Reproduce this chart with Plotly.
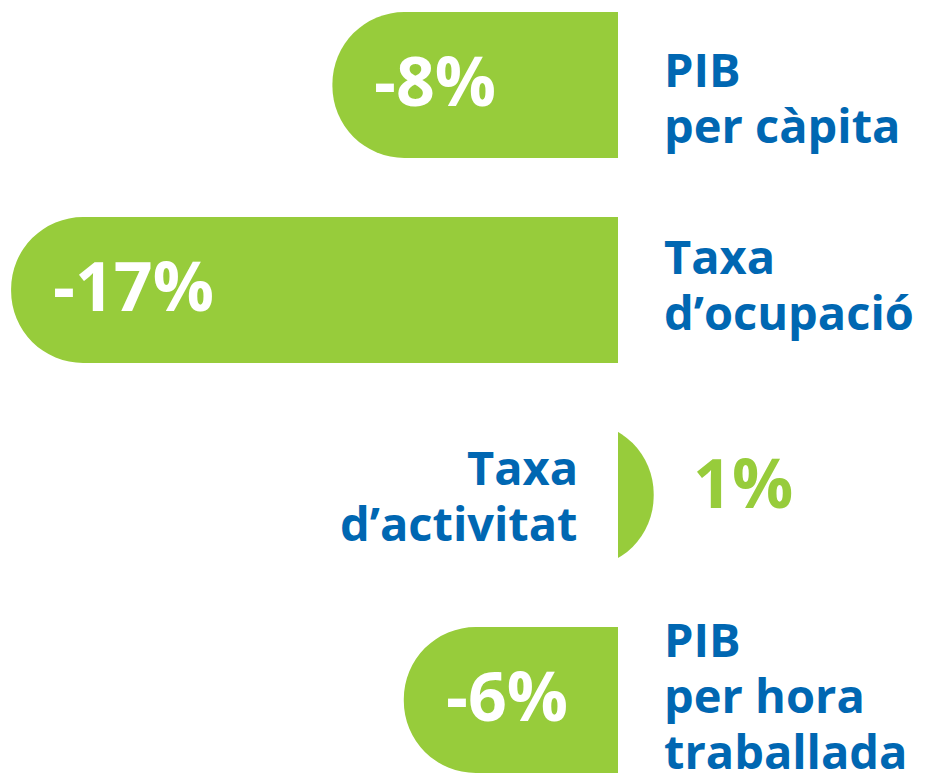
import plotly.graph_objects as go

categories = ["PIB per càpita", "Taxa d’ocupació", "Taxa d’activitat", "PIB per hora treballada"]
label_lines = [["PIB", "per càpita"], ["Taxa", "d’ocupació"], ["Taxa", "d’activitat"],
               ["PIB", "per hora", "traballada"]]
values = [-8, -17, 1, -6]
value_text = ["-8%", "-17%", "1%", "-6%"]

GREEN = "#97cc3b"
BLUE = "#0067b2"
FONT = "Open Sans"

# geometry (page has an 8px body margin, so the zero line sits at 610px inside the figure)
W, H = 926, 775
PX_PER_UNIT = 35.7
PX_PER_CAT = 205
ZERO_PX = 610
FIRST_PX = 77
BAR_W = 0.712
R = BAR_W / 2 * PX_PER_CAT / PX_PER_UNIT   # radius of rounded end, in x units
LINE_STEP = 56

neg_cats = [c for c, v in zip(categories, values) if v < 0]
neg_vals = [v for v in values if v < 0]
# positive bars: floating bar whose right end is a full semicircle, the part left of zero is masked
pos_cats = [c for c, v in zip(categories, values) if v > 0]
pos_base = [v - 2 * R for v in values if v > 0]
pos_len = [2 * R for v in values if v > 0]
mask_base = [v - 2 * R - 1 for v in values if v > 0]
mask_len = [2 * R + 1 - v for v in values if v > 0]

fig = go.Figure()
fig.add_trace(go.Bar(
    y=neg_cats, x=neg_vals, orientation="h", width=BAR_W,
    marker=dict(color=GREEN, cornerradius="50%", line=dict(width=0)),
    hoverinfo="skip",
))
fig.add_trace(go.Bar(
    y=pos_cats, x=pos_len, base=pos_base, orientation="h", width=BAR_W,
    marker=dict(color=GREEN, cornerradius="50%", line=dict(width=0)),
    hoverinfo="skip",
))
fig.add_trace(go.Bar(
    y=pos_cats, x=mask_len, base=mask_base, orientation="h", width=BAR_W + 0.04,
    marker=dict(color="white", line=dict(width=0)),
    hoverinfo="skip",
))

nudge = {0: -12, 1: 6, 3: 5}
annotations = []
for i, (cat, lines, val, txt) in enumerate(zip(categories, label_lines, values, value_text)):
    n = len(lines)
    if val < 0:
        annotations.append(dict(x=val, y=cat, text=txt, xanchor="left", xshift=40, yshift=6,
                                showarrow=False, font=dict(family=FONT, size=68, color="white", weight=700)))
        anchor, xs = "left", 44
    else:
        annotations.append(dict(x=val, y=cat, text=txt, xanchor="left", xshift=37, yshift=14,
                                showarrow=False, font=dict(family=FONT, size=68, color=GREEN, weight=700)))
        anchor, xs = "right", -38
    for j, line in enumerate(lines):
        annotations.append(dict(x=0, y=cat, text=line, xanchor=anchor, xshift=xs,
                                yshift=((n - 1) / 2 - j) * LINE_STEP + nudge.get(i, 0),
                                showarrow=False, font=dict(family=FONT, size=47, color=BLUE, weight=700)))

fig.update_layout(
    width=W, height=H,
    margin=dict(l=0, r=0, t=0, b=0),
    paper_bgcolor="white", plot_bgcolor="white",
    showlegend=False, barmode="overlay",
    xaxis=dict(range=[-ZERO_PX / PX_PER_UNIT, (W - ZERO_PX) / PX_PER_UNIT], visible=False, fixedrange=True),
    yaxis=dict(range=[(H - FIRST_PX) / PX_PER_CAT, -FIRST_PX / PX_PER_CAT], visible=False, fixedrange=True,
               categoryorder="array", categoryarray=categories),
    annotations=annotations,
)

fig.write_html("out.html", config={"displayModeBar": False})
